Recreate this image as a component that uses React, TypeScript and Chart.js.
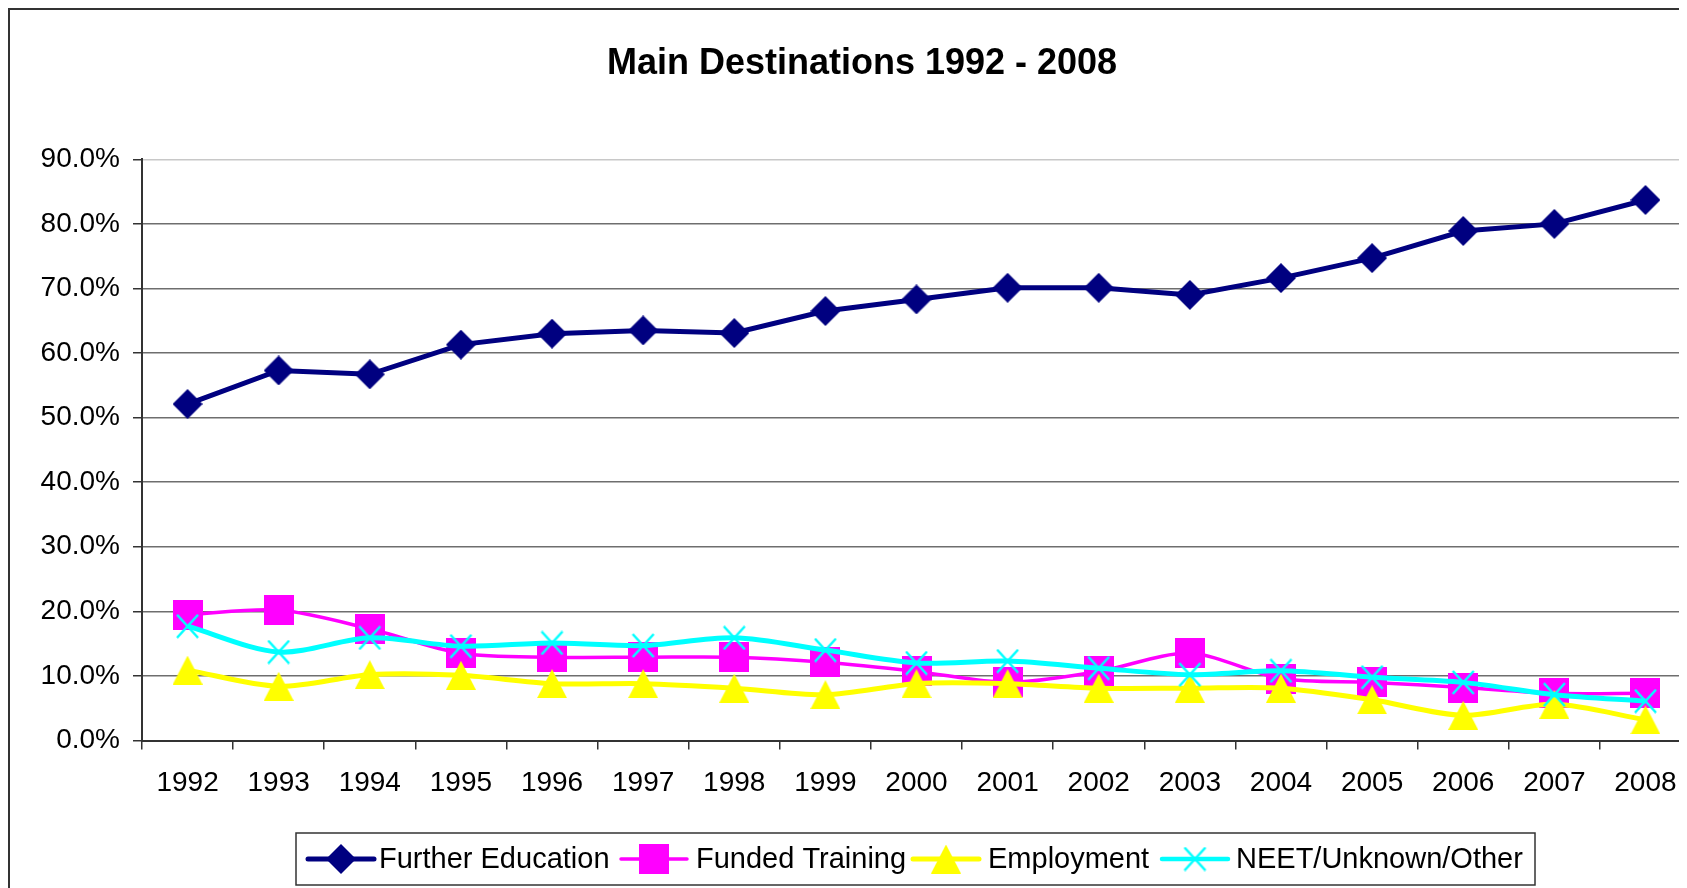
import React, { useEffect, useRef } from 'react';
import { Chart, registerables } from 'chart.js';

Chart.register(...registerables);

// ---------- data ----------
const years = ['1992', '1993', '1994', '1995', '1996', '1997', '1998', '1999', '2000', '2001', '2002', '2003', '2004', '2005', '2006', '2007', '2008'];
const furtherEducation = [52.1, 57.3, 56.7, 61.3, 63.0, 63.5, 63.1, 66.5, 68.3, 70.1, 70.1, 69.0, 71.6, 74.7, 78.9, 80.0, 83.7];
const fundedTraining = [19.5, 20.2, 17.3, 13.5, 12.9, 12.9, 12.9, 12.1, 10.7, 9.0, 10.7, 13.5, 9.6, 9.0, 8.2, 7.3, 7.3];
const employment = [10.9, 8.4, 10.2, 10.1, 8.8, 8.8, 8.1, 7.1, 8.8, 8.8, 8.1, 8.1, 8.1, 6.3, 3.9, 5.6, 3.2];
const neet = [17.7, 13.7, 15.9, 14.6, 15.1, 14.7, 15.9, 14.0, 12.0, 12.3, 11.2, 10.2, 10.8, 9.8, 9.0, 7.1, 6.1];
const seriesNames = ['Further Education', 'Funded Training', 'Employment', 'NEET/Unknown/Other'];
const chartTitle = 'Main Destinations 1992 - 2008';

// ---------- styling ----------
const FONT = '"Liberation Sans", Arial, Helvetica, sans-serif';
const NAVY = '#000080';
const MAGENTA = '#FF00FF';
const YELLOW = '#FFFF00';
const CYAN = '#00FFFF';

const CANVAS_W = 1740;
const CANVAS_H = 900;

function makeDiamond(size: number, color: string) {
  const c = document.createElement('canvas');
  c.width = size; c.height = size;
  const g = c.getContext('2d')!;
  g.fillStyle = color;
  g.beginPath();
  g.moveTo(size / 2, 0);
  g.lineTo(size, size / 2);
  g.lineTo(size / 2, size);
  g.lineTo(0, size / 2);
  g.closePath();
  g.fill();
  return c;
}
function makeSquare(size: number, color: string) {
  const c = document.createElement('canvas');
  c.width = size; c.height = size;
  const g = c.getContext('2d')!;
  g.fillStyle = color;
  g.fillRect(0, 0, size, size);
  return c;
}
function makeTriangle(w: number, h: number, color: string) {
  const c = document.createElement('canvas');
  c.width = w; c.height = h;
  const g = c.getContext('2d')!;
  g.fillStyle = color;
  g.beginPath();
  g.moveTo(w / 2, 0);
  g.lineTo(w, h);
  g.lineTo(0, h);
  g.closePath();
  g.fill();
  return c;
}
function makeCross(size: number, color: string, lw: number) {
  const c = document.createElement('canvas');
  c.width = size; c.height = size;
  const g = c.getContext('2d')!;
  g.strokeStyle = color;
  g.lineWidth = lw;
  g.beginPath();
  g.moveTo(2, 1); g.lineTo(size - 2, size - 1);
  g.moveTo(size - 2, 1); g.lineTo(2, size - 1);
  g.stroke();
  return c;
}

export default function App() {
  const ref = useRef<HTMLCanvasElement | null>(null);

  useEffect(() => {
    const canvas = ref.current;
    if (!canvas) return;

    const diamond = makeDiamond(30, NAVY);
    const square = makeSquare(30, MAGENTA);
    const triangle = makeTriangle(30, 29, YELLOW);
    const cross = makeCross(25, CYAN, 2.5);

    const legendLayout = [
      { lineX: 298, textX: 369, color: NAVY, width: 5, marker: diamond },
      { lineX: 611, textX: 686, color: MAGENTA, width: 3.5, marker: square },
      { lineX: 903, textX: 978, color: YELLOW, width: 5, marker: triangle },
      { lineX: 1152, textX: 1226, color: CYAN, width: 4.5, marker: cross },
    ];

    const decorations = {
      id: 'decorations',
      afterDraw(chart: any) {
        const ctx = chart.ctx as CanvasRenderingContext2D;
        ctx.save();
        // title
        ctx.fillStyle = '#000';
        ctx.font = `bold 36px ${FONT}`;
        ctx.textAlign = 'center';
        ctx.textBaseline = 'alphabetic';
        ctx.fillText(chartTitle, 852, 64);

        // legend box
        const bx = 286, by = 823, bw = 1239, bh = 52;
        ctx.fillStyle = '#fff';
        ctx.fillRect(bx, by, bw, bh);
        ctx.strokeStyle = '#333';
        ctx.lineWidth = 1.5;
        ctx.strokeRect(bx, by, bw, bh);
        const cy = by + bh / 2;
        legendLayout.forEach((it, i) => {
          ctx.strokeStyle = it.color;
          ctx.lineWidth = it.width;
          ctx.lineCap = 'round';
          ctx.beginPath();
          ctx.moveTo(it.lineX, cy);
          ctx.lineTo(it.lineX + 66, cy);
          ctx.stroke();
          const m = it.marker;
          ctx.drawImage(m, it.lineX + 33 - m.width / 2, cy - m.height / 2);
          ctx.fillStyle = '#000';
          ctx.font = `29px ${FONT}`;
          ctx.textAlign = 'left';
          ctx.textBaseline = 'middle';
          ctx.fillText(seriesNames[i], it.textX, cy + 1);
        });
        ctx.restore();
      },
    };

    const chart = new Chart(canvas, {
      type: 'line',
      data: {
        labels: years,
        datasets: [
          {
            label: seriesNames[0],
            data: furtherEducation,
            borderColor: NAVY,
            backgroundColor: NAVY,
            borderWidth: 5,
            tension: 0,
            pointStyle: diamond as any,
            pointRadius: 15,
            order: 3,
          },
          {
            label: seriesNames[1],
            data: fundedTraining,
            borderColor: MAGENTA,
            backgroundColor: MAGENTA,
            borderWidth: 3.5,
            tension: 0.3,
            pointStyle: square as any,
            pointRadius: 15,
            order: 2,
          },
          {
            label: seriesNames[2],
            data: employment,
            borderColor: YELLOW,
            backgroundColor: YELLOW,
            borderWidth: 5,
            tension: 0.3,
            pointStyle: triangle as any,
            pointRadius: 15,
            order: 1,
          },
          {
            label: seriesNames[3],
            data: neet,
            borderColor: CYAN,
            backgroundColor: CYAN,
            borderWidth: 5,
            tension: 0.3,
            pointStyle: cross as any,
            pointRadius: 12,
            order: 0,
          },
        ],
      },
      options: {
        responsive: false,
        animation: false,
        events: [],
        layout: { padding: { left: 0, right: CANVAS_W - 1681, top: 149.3, bottom: CANVAS_H - 730.5 - 60 } },
        plugins: {
          legend: { display: false },
          title: { display: false },
          tooltip: { enabled: false },
        },
        scales: {
          x: {
            type: 'category',
            offset: true,
            grid: {
              offset: true,
              drawOnChartArea: false,
              drawTicks: true,
              tickLength: 9,
              color: '#333',
              lineWidth: 1.5,
            },
            border: { display: true, color: '#333', width: 2 },
            ticks: {
              font: { family: FONT, size: 28 },
              color: '#000',
              padding: 17,
              maxRotation: 0,
              autoSkip: false,
            },
            afterFit: (s: any) => { s.height = 60; },
          },
          y: {
            min: 0,
            max: 90,
            ticks: {
              stepSize: 10,
              callback: (v: any) => Number(v).toFixed(1) + '%',
              font: { family: FONT, size: 28 },
              color: '#000',
              padding: 13,
            },
            grid: {
              color: (c: any) => (c.tick && c.tick.value === 90 ? '#c8c8c8' : '#6e6e6e'),
              lineWidth: 1.5,
              tickLength: 9,
              tickColor: '#333',
            },
            border: { display: true, color: '#333', width: 2 },
            afterFit: (s: any) => { s.width = 132; },
          },
        },
      },
      plugins: [decorations],
    });

    return () => chart.destroy();
  }, []);

  return (
    <>
      <style>{`html,body{overflow:hidden;}`}</style>
      <div style={{ position: 'relative', width: CANVAS_W, height: CANVAS_H, border: '2px solid #333', background: '#fff' }}>
        <canvas ref={ref} width={CANVAS_W} height={CANVAS_H} style={{ display: 'block' }} />
      </div>
    </>
  );
}
